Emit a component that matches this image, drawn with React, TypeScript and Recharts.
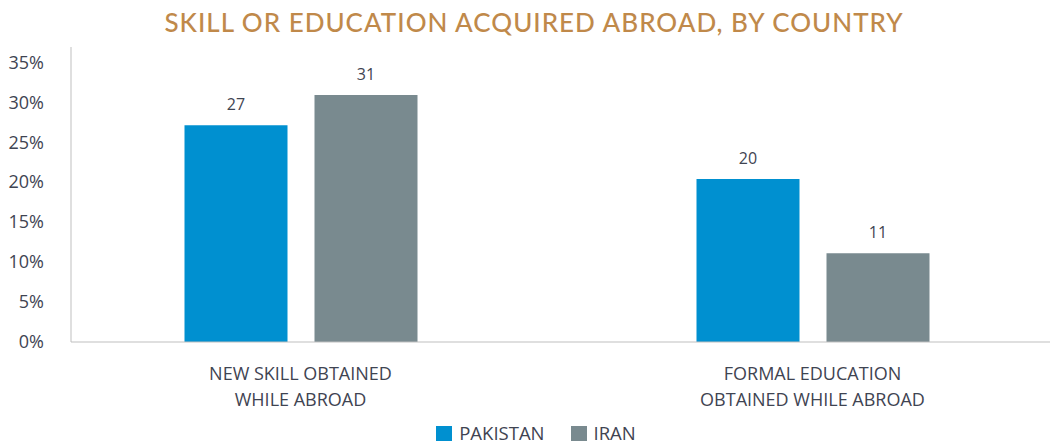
import { Bar, BarChart, LabelList, Legend, XAxis, YAxis } from "recharts";

const categories = ["NEW SKILL OBTAINED\nWHILE ABROAD", "FORMAL EDUCATION\nOBTAINED WHILE ABROAD"];
const pakistan = [27.1, 20.4];
const iran = [30.9, 11.1];
const yTicks = [0, 5, 10, 15, 20, 25, 30, 35];
const seriesOrder = ["pakistan", "iran"];

const data = categories.map((c, i) => ({ category: c, pakistan: pakistan[i], iran: iran[i] }));

const textColor = "#3f4452";
const font = "'Open Sans', sans-serif";

function CategoryTick({ x, y, payload }: any) {
  const lines = String(payload.value).split("\n");
  return (
    <text x={x} y={y} textAnchor="middle" fill={textColor} fontSize={18} fontFamily={font}>
      {lines.map((l, i) => (
        <tspan key={i} x={x} dy={i === 0 ? 30 : 26}>
          {l}
        </tspan>
      ))}
    </text>
  );
}

function LegendBox({ payload }: any) {
  const items = [...payload].sort((a: any, b: any) => seriesOrder.indexOf(a.dataKey) - seriesOrder.indexOf(b.dataKey));
  return (
    <div
      style={{
        display: "flex",
        justifyContent: "center",
        gap: 26,
        fontFamily: font,
        fontSize: 18.5,
        lineHeight: "20px",
        color: textColor,
        paddingTop: 6,
        paddingLeft: 22,
      }}
    >
      {items.map((p: any) => (
        <div key={p.value} style={{ display: "flex", alignItems: "center", gap: 7 }}>
          <span style={{ width: 16, height: 15, background: p.color, display: "inline-block" }} />
          <span>{p.value}</span>
        </div>
      ))}
    </div>
  );
}

export default function App() {
  return (
    <div style={{ position: "absolute", top: 0, left: 0, width: 1053, height: 447, background: "#fff" }}>
      <div
        style={{
          position: "absolute",
          top: 6,
          left: 0,
          width: 1068,
          textAlign: "center",
          color: "#c0894a",
          fontFamily: "Lato, sans-serif",
          fontSize: 26,
          fontWeight: 500,
          letterSpacing: 1,
        }}
      >
        SKILL OR EDUCATION ACQUIRED ABROAD, BY COUNTRY
      </div>
      <BarChart width={1053} height={447} data={data} margin={{ top: 47, right: 3, left: 0, bottom: 0 }} barSize={103} barGap={27}>
        <XAxis
          dataKey="category"
          tick={<CategoryTick />}
          tickLine={false}
          axisLine={{ stroke: "#bfbfbf" }}
          height={75}
          interval={0}
          padding={{ left: -26.5, right: -18.5 }}
        />
        <YAxis
          domain={[0, 36.9]}
          ticks={yTicks}
          tickFormatter={(v) => `${v}%`}
          tick={{ fontSize: 18, fill: textColor, fontFamily: font }}
          tickLine={false}
          axisLine={{ stroke: "#bfbfbf" }}
          width={71}
          tickMargin={21}
        />
        <Legend verticalAlign="bottom" height={30} content={<LegendBox />} />
        <Bar dataKey="pakistan" name="PAKISTAN" fill="#0090d0" isAnimationActive={false}>
          <LabelList dataKey="pakistan" position="top" offset={15} formatter={(v: any) => Math.round(v)} fill={textColor} fontSize={16} fontFamily={font} />
        </Bar>
        <Bar dataKey="iran" name="IRAN" fill="#798a8f" isAnimationActive={false}>
          <LabelList dataKey="iran" position="top" offset={15} formatter={(v: any) => Math.round(v)} fill={textColor} fontSize={16} fontFamily={font} />
        </Bar>
      </BarChart>
    </div>
  );
}
